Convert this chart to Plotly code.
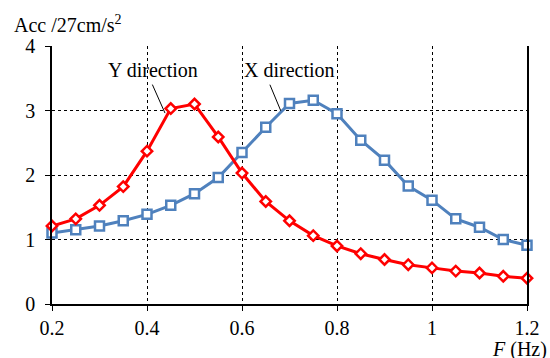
import plotly.graph_objects as go

freq = [0.2, 0.25, 0.3, 0.35, 0.4, 0.45, 0.5, 0.55, 0.6, 0.65, 0.7,
        0.75, 0.8, 0.85, 0.9, 0.95, 1.0, 1.05, 1.1, 1.15, 1.2]
y_dir = [1.21, 1.32, 1.53, 1.82, 2.37, 3.03, 3.10, 2.59, 2.03, 1.59, 1.29,
         1.06, 0.90, 0.78, 0.69, 0.61, 0.56, 0.51, 0.48, 0.43, 0.40]
x_dir = [1.10, 1.15, 1.21, 1.29, 1.39, 1.53, 1.71, 1.96, 2.35, 2.74, 3.11,
         3.16, 2.95, 2.54, 2.23, 1.83, 1.61, 1.32, 1.19, 1.00, 0.91]
x_ticks = [0.2, 0.4, 0.6, 0.8, 1.0, 1.2]
x_tick_labels = ["0.2", "0.4", "0.6", "0.8", "1", "1.2"]
y_ticks = [0, 1, 2, 3, 4]

FONT = "Liberation Serif, Times New Roman, serif"
RED = "#FF0000"
BLUE = "#4F81BD"

fig = go.Figure()
fig.add_trace(go.Scatter(
    x=freq, y=x_dir, mode="lines+markers", name="X direction",
    line=dict(color=BLUE, width=3),
    marker=dict(symbol="square", size=9, color="white",
                line=dict(color=BLUE, width=2.5)),
    cliponaxis=False,
))
fig.add_trace(go.Scatter(
    x=freq, y=y_dir, mode="lines+markers", name="Y direction",
    line=dict(color=RED, width=3),
    marker=dict(symbol="diamond", size=8, color="white",
                line=dict(color=RED, width=2.5)),
    cliponaxis=False,
))

fig.update_layout(
    width=550, height=358,
    margin=dict(l=52, r=23, t=46, b=54, autoexpand=False),
    plot_bgcolor="white", paper_bgcolor="white",
    showlegend=False,
    font=dict(family=FONT, size=20, color="black"),
    xaxis=dict(
        range=[0.2, 1.2], tickvals=x_ticks, ticktext=x_tick_labels,
        showgrid=True, gridcolor="black", gridwidth=1, griddash="dot",
        showline=True, linecolor="black", linewidth=1.5,
        ticks="outside", ticklen=5, tickcolor="black", tickwidth=1,
        zeroline=False, automargin=False, tickfont=dict(family=FONT, size=20),
    ),
    yaxis=dict(
        range=[0, 4], tickvals=y_ticks,
        showgrid=True, gridcolor="black", gridwidth=1, griddash="dot",
        showline=True, linecolor="black", linewidth=1.5, mirror=True,
        ticks="outside", ticklen=5, tickcolor="black", tickwidth=1,
        ticklabelstandoff=6,
        zeroline=False, automargin=False, tickfont=dict(family=FONT, size=20),
    ),
)

# Axis titles
fig.add_annotation(text="Acc /27cm/s<sup>2</sup>", xref="paper", yref="paper",
                   x=-0.084, y=1.085, xanchor="left", yanchor="middle",
                   showarrow=False, font=dict(family=FONT, size=20))
fig.add_annotation(text="<i>F</i> (Hz)", xref="paper", yref="paper",
                   x=1.046, y=-0.178, xanchor="right", yanchor="middle",
                   showarrow=False, font=dict(family=FONT, size=20))

# Series labels
fig.add_annotation(text="Y direction", xref="paper", yref="paper",
                   x=0.2126, y=0.907, xanchor="center", yanchor="middle",
                   showarrow=False, font=dict(family=FONT, size=20))
fig.add_annotation(text="X direction", xref="paper", yref="paper",
                   x=0.501, y=0.907, xanchor="center", yanchor="middle",
                   showarrow=False, font=dict(family=FONT, size=20))

# Leader lines (arrow tips near the labelled points)
fig.add_annotation(text="", x=0.4379, y=2.96, xref="x", yref="y",
                   ax=-13.3, ay=-30, showarrow=True, arrowhead=0,
                   arrowwidth=1, arrowcolor="black")
fig.add_annotation(text="", x=0.6814, y=3.0, xref="x", yref="y",
                   ax=-11.4, ay=-27.3, showarrow=True, arrowhead=0,
                   arrowwidth=1, arrowcolor="black")

fig.write_html("out.html", config={"displayModeBar": False},
               post_script="document.body.style.margin='0';")
